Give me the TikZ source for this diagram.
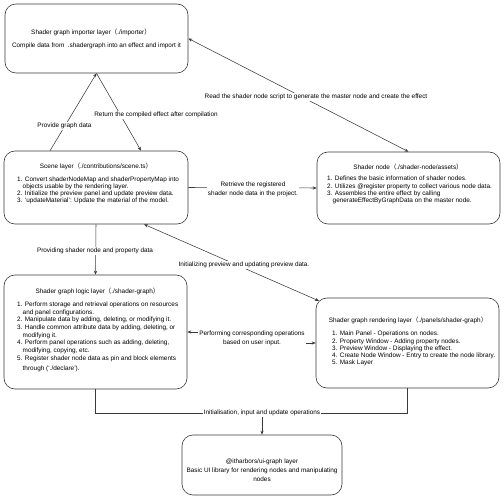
\documentclass[tikz,border=0pt]{standalone}
\usepackage{fontspec}
\setmainfont{Liberation Sans}
\newfontfamily\cjkfont{Noto Sans CJK SC}
\usetikzlibrary{arrows.meta,calc}
\newcommand\zlp{{\cjkfont （}}
\newcommand\zrp{{\cjkfont ）}}
\definecolor{linec}{HTML}{3A3A3A}
\begin{document}
\begin{tikzpicture}[x=1pt,y=-1pt,
  every node/.style={font=\fontsize{6.4}{7.2}\selectfont, inner sep=0pt, text=black},
  layerbox/.style={draw=linec, line width=0.6pt, rounded corners=11pt, inner sep=0pt},
  conn/.style={draw=linec, line width=0.55pt},
  tip/.style={-{Stealth[length=4pt,width=3.2pt]}},
  bitip/.style={{Stealth[length=4pt,width=3.2pt]}-{Stealth[length=4pt,width=3.2pt]}},
  elabel/.style={fill=white, align=center, font=\fontsize{6.4}{9}\selectfont, inner sep=1pt},
  listtext/.style={anchor=north west, align=left},
]
\useasboundingbox (0,0) rectangle (504,500);

% boxes
\node[layerbox, minimum width=183pt, minimum height=69pt] (imp) at (96.5,38.5) {};
\node[layerbox, minimum width=184pt, minimum height=73pt] (scene) at (96,187.5) {};
\node[layerbox, minimum width=183pt, minimum height=72pt] (snode) at (408.5,188) {};
\node[layerbox, minimum width=183pt, minimum height=114pt] (logic) at (95.5,332) {};
\node[layerbox, minimum width=183pt, minimum height=90pt] (rend) at (407.5,343) {};
\node[layerbox, minimum width=160pt, minimum height=60pt] (ui) at (262,465) {};

% connectors
\draw[conn, tip] ($(scene.north)+(-46,0)$) -- (imp.south);
\draw[conn, tip] (imp.south) -- ($(scene.north)+(45,0)$);
\draw[conn, bitip] (imp.east) -- (snode.north);
\draw[conn, tip] (scene.east) -- (snode.west);
\draw[conn, tip] (scene.south) -- (logic.north);
\draw[conn, bitip] ($(scene.south)+(48,0)$) -- ($(rend.north west)+(3.2,3.2)$);
\coordinate (pm) at (252,338.5);
\draw[conn, bitip] (logic.east) -| (pm) |- (rend.west);
\coordinate (jn) at (262,413);
\draw[conn] (logic.south) |- (jn);
\draw[conn] (rend.south) |- (jn);
\draw[conn, tip] (jn) -- (ui.north);

% connector labels
\node[elabel] (lA) at (64.5,126) {Provide graph data};
\node[elabel] (lB) at (156,115) {Return the compiled effect after compilation};
\node[elabel] (lR) at (316,97) {Read the shader node script to generate the master node and create the effect};
\node[elabel] (lRet) at (253,189.5) {Retrieve the registered\\shader node data in the project.};
\node[elabel] (lP) at (95,250.7) {Providing shader node and property data};
\node[elabel] (lI) at (244,265) {Initializing preview and updating preview data.};
\node[elabel] (lPerf) at (pm) {Performing corresponding operations\\based on user input.};
\node[elabel] (lU) at (jn) {Initialisation, input and update operations};

% importer
\node (impT) at (91,32) {Shader graph importer layer\zlp./importer\zrp};
\node (impD) at (96.5,46) {Compile data from\ \ .shadergraph into an effect and import it};

% scene
\node (sceneT) at (96,166) {Scene layer\zlp./contributions/scene.ts\zrp};
\node[listtext] (sceneL) at (17,176.5) {1. Convert shaderNodeMap and shaderPropertyMap into\\\hspace*{5.5pt}objects usable by the rendering layer.\\2. Initialize the preview panel and update preview data.\\3. `updateMaterial': Update the material of the model.};

% shader node
\node (snT) at (408,167) {Shader node\zlp./shader-node/assets\zrp};
\node[listtext] (snL) at (327,176) {1. Defines the basic information of shader nodes.\\2. Utilizes @register property to collect various node data.\\3. Assembles the entire effect by calling\\\hspace*{5.5pt}generateEffectByGraphData on the master node.};

% logic
\node (logicT) at (97.5,291) {Shader graph logic layer\zlp./shader-graph\zrp};
\node[listtext, font=\fontsize{6.4}{7.7}\selectfont] (logicL) at (17,301.5) {1. Perform storage and retrieval operations on resources\\\hspace*{5.5pt}and panel configurations.\\2. Manipulate data by adding, deleting, or modifying it.\\3. Handle common attribute data by adding, deleting, or\\\hspace*{5.5pt}modifying it.\\4. Perform panel operations such as adding, deleting,\\\hspace*{5.5pt}modifying, copying, etc.\\5. Register shader node data as pin and block elements\\[3pt]\hspace*{5.5pt}through (`./declare').};

% rendering
\node (rendT) at (408,320) {Shader graph rendering layer\zlp./panels/shader-graph\zrp};
\node[listtext] (rendL) at (332,331) {1. Main Panel - Operations on nodes.\\2. Property Window - Adding property nodes.\\3. Preview Window - Displaying the effect.\\4. Create Node Window - Entry to create the node library.\\5. Mask Layer};

% ui
\node[align=center, font=\fontsize{6.4}{9}\selectfont] (uiT) at (262,470) {@itharbors/ui-graph layer\\Basic UI library for rendering nodes and manipulating\\nodes};
\end{tikzpicture}
\end{document}
